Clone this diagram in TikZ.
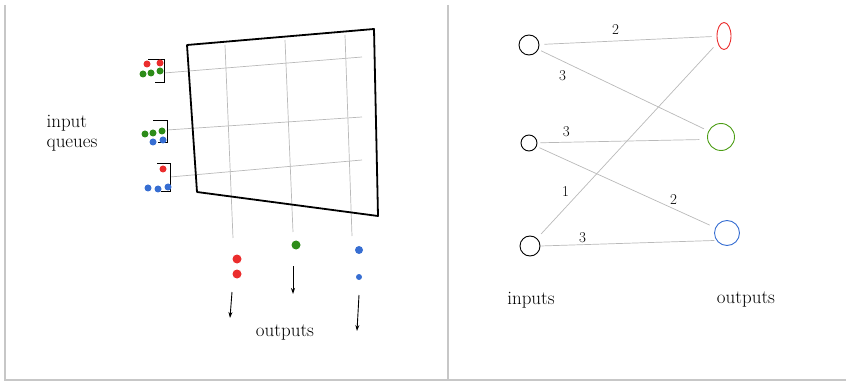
\documentclass[tikz,border=0pt]{standalone}
\usepackage{tikz}
\usetikzlibrary{arrows.meta,shapes.geometric,positioning}
\definecolor{qred}{RGB}{235,45,45}
\definecolor{qgreen}{RGB}{45,140,25}
\definecolor{qblue}{RGB}{55,110,210}

\begin{document}
\begin{tikzpicture}[x=1pt,y=-1pt,
		wire/.style={gray!55,line width=0.7pt},
		frame/.style={black!22,line width=1.2pt},
		pkt/.style={circle,fill,inner sep=0pt,minimum size=7pt},
		port/.style={draw,circle,inner sep=0pt,minimum size=20pt,line width=0.9pt},
		weight/.style={text=black,font=\fontsize{15}{15}\selectfont,inner sep=1pt},
		hand/.style={font=\fontsize{19}{20}\selectfont}]
					\useasboundingbox (0,0) rectangle (846,382);
					% Define the frame
					\draw[frame] (5,5) -- (5,380) -- (846,380);
					\draw[frame] (448,5) -- (448,380);
					% Crossbar wires
					\draw[wire] (164,73) -- (362,57);
					\draw[wire] (167,130) -- (362,117);
					\draw[wire] (170,177) -- (362,160);
					\draw[wire] (225,45) -- (233,238);
					\draw[wire] (285,40) -- (293,232);
					\draw[wire] (345,35) -- (352,236);
					% Crossbar box
					\draw[line width=1.8pt,line join=round] (187,45) -- (374,29) -- (378,216) -- (197,192) -- cycle;
					% Input queues
					\draw[line width=1pt] (148,60) -- (164,60) -- (164,83) -- (155,83);
					\draw[line width=1pt] (153,121) -- (167,121) -- (167,143) -- (158,143);
					\draw[line width=1pt] (157,164) -- (170,164) -- (170,192) -- (161,192);
					\foreach \x/\y in {147/64,160/63,163/169} \node[pkt,qred] at (\x,\y) {};
					\foreach \x/\y in {143/74,151/73,160/71,145/134,153/133,162/131} \node[pkt,qgreen] at (\x,\y) {};
					\foreach \x/\y in {153/142,163/140,148/188,158/189,168/187} \node[pkt,qblue] at (\x,\y) {};
					\node[hand,align=left] (queues) at (72,133) {input\\queues};
					% Outputs
					\node[pkt,qred,minimum size=9pt] at (237,259) {};
					\node[pkt,qred,minimum size=9pt] at (237,274) {};
					\node[pkt,qgreen,minimum size=9pt] at (296,245) {};
					\node[pkt,qblue,minimum size=8pt] at (359,250) {};
					\node[pkt,qblue,minimum size=6pt] at (359,277) {};
					\draw[line width=0.9pt,-{Stealth[length=6pt,width=4pt]}] (232,292) -- (230,318);
					\draw[line width=0.9pt,-{Stealth[length=6pt,width=4pt]}] (293,266) -- (293,294);
					\draw[line width=0.9pt,-{Stealth[length=6pt,width=4pt]}] (359,295) -- (357,331);
					\node[hand] (outs) at (285,333) {outputs};
					% Bipartite graph
					\node[port] (in1) at (529,45) {};
					\node[port,minimum size=16pt] (in2) at (529,143) {};
					\node[port] (in3) at (530,246) {};
					\node[port,ellipse,draw=qred,minimum width=14pt,minimum height=27pt] (out1) at (724,36) {};
					\node[port,draw=qgreen!85!yellow,minimum size=27pt] (out2) at (721,137) {};
					\node[port,draw=qblue,minimum size=25pt] (out3) at (727,233) {};
					\draw[wire,shorten <=5pt,shorten >=5pt] (in1) -- (out1) node[weight,pos=0.43,above=5pt] {2};
					\draw[wire,shorten <=3pt,shorten >=5pt] (in1) -- (out2) node[weight,pos=0.17,below left=6pt and 0pt] {3};
					\draw[wire,shorten <=3pt,shorten >=8pt] (in2) -- (out2.190) node[weight,pos=0.17,above=4pt] {3};
					\draw[wire,shorten <=3pt,shorten >=6pt] (in2) -- (out3) node[weight,pos=0.74,above right=1pt and 0pt] {2};
					\draw[wire,shorten <=6pt,shorten >=6pt] (in3) -- (out1) node[weight,pos=0.24,left=10pt] {1};
					\draw[wire,shorten <=1pt,shorten >=2pt] (in3.east) -- (out3.215) node[weight,pos=0.24,above=1pt] {3};
					\node[hand] (ins) at (531,300) {inputs};
					\node[hand] (outputs) at (746,300) {outputs};
				\end{tikzpicture}
\end{document}
